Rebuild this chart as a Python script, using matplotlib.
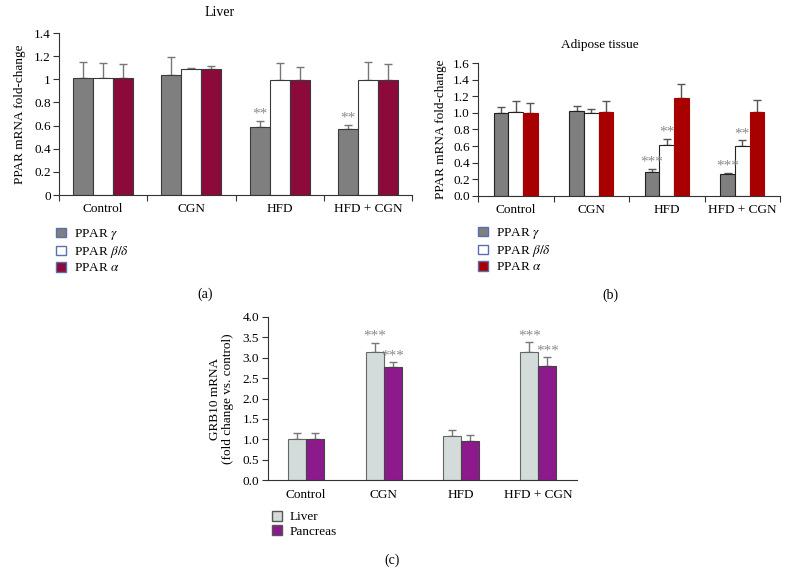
import numpy as np
import matplotlib
matplotlib.use("Agg")
import matplotlib.pyplot as plt
from matplotlib.patches import Patch

plt.rcParams.update({
    "font.family": ["Liberation Serif", "DejaVu Serif"],
    "mathtext.fontset": "stix",
    "font.size": 9.5,
    "axes.linewidth": 0.8,
    "axes.edgecolor": "#333333",
    "xtick.color": "#333333",
    "ytick.color": "#333333",
    "xtick.labelcolor": "black",
    "ytick.labelcolor": "black",
})

GROUPS = ["Control", "CGN", "HFD", "HFD + CGN"]

# panel (a) liver: bar value and top of error bar
liver_gamma = [1.01, 1.04, 0.59, 0.57]
liver_gamma_err = [1.15, 1.19, 0.64, 0.605]
liver_bd = [1.01, 1.09, 0.99, 0.99]
liver_bd_err = [1.14, 1.10, 1.14, 1.15]
liver_alpha = [1.01, 1.09, 0.99, 0.99]
liver_alpha_err = [1.13, 1.115, 1.11, 1.13]
liver_stars = ["", "", "**", "**"]

# panel (b) adipose tissue
adip_gamma = [1.00, 1.02, 0.29, 0.26]
adip_gamma_err = [1.075, 1.085, 0.325, 0.28]
adip_bd = [1.01, 0.995, 0.61, 0.60]
adip_bd_err = [1.15, 1.05, 0.69, 0.67]
adip_alpha = [1.00, 1.015, 1.185, 1.015]
adip_alpha_err = [1.12, 1.15, 1.355, 1.16]
adip_gamma_stars = ["", "", "***", "***"]
adip_bd_stars = ["", "", "**", "**"]

# panel (c) GRB10
grb_liver = [1.02, 3.13, 1.09, 3.14]
grb_liver_err = [1.165, 3.36, 1.23, 3.37]
grb_panc = [1.02, 2.76, 0.97, 2.79]
grb_panc_err = [1.165, 2.89, 1.11, 3.01]
grb_liver_stars = ["", "***", "", "***"]
grb_panc_stars = ["", "***", "", "***"]

fig = plt.figure(figsize=(7.88, 5.86), dpi=100)


def bars(ax, x, vals, tops, color, edge, width, ecolor="#777777"):
    vals = np.array(vals)
    tops = np.array(tops)
    ax.bar(x, vals, width, color=color, edgecolor=edge, linewidth=0.8, zorder=2)
    ax.errorbar(x, vals, yerr=[np.zeros_like(vals), tops - vals], fmt="none",
                ecolor=ecolor, elinewidth=1.0, capsize=3, capthick=1.0, zorder=1)


def stars(ax, x, tops, labels):
    for xi, t, s in zip(x, tops, labels):
        if s:
            ax.annotate(s, (xi, t), xytext=(0, 0), textcoords="offset points",
                        ha="center", va="bottom", color="#8a8a8a", fontsize=11)


def style(ax, ylim, yticks, ylabels, boundary_ticks=True):
    ax.set_xlim(0, 4)
    ax.set_ylim(*ylim)
    ax.spines[["top", "right"]].set_visible(False)
    ax.set_yticks(yticks)
    ax.set_yticklabels(ylabels)
    ax.set_xticks(np.arange(4) + 0.5)
    ax.set_xticklabels(GROUPS)
    ax.tick_params(axis="x", length=0, pad=6)
    ax.tick_params(axis="y", length=4, width=0.8, pad=2)
    if boundary_ticks:
        ax.set_xticks(np.arange(5), minor=True)
        ax.tick_params(axis="x", which="minor", length=4, width=0.8)


def legend(handles, labels, x, y):
    fig.legend(handles, labels, loc="upper left", bbox_to_anchor=(x / 788, 1 - y / 586),
               frameon=False, handlelength=0.75, handleheight=0.75, handletextpad=0.6,
               labelspacing=0.15, borderpad=0, borderaxespad=0, fontsize=9.5)


legend_edge = "#5b6fae"
pos = np.arange(4) + 0.5

# ---- (a) Liver
ax = fig.add_axes([59 / 788, 1 - 195 / 586, 353 / 788, 162 / 586])
w = 0.227
red_a = "#8c0a3a"
bars(ax, pos - w, liver_gamma, liver_gamma_err, "#7f7f7f", "#3a3a3a", w)
bars(ax, pos, liver_bd, liver_bd_err, "white", "#3a3a3a", w)
bars(ax, pos + w, liver_alpha, liver_alpha_err, red_a, "#3a3a3a", w)
stars(ax, pos - w, liver_gamma_err, liver_stars)
style(ax, (0, 1.4), np.arange(0, 1.41, 0.2), ["0", "0.2", "0.4", "0.6", "0.8", "1", "1.2", "1.4"])
ax.set_ylabel("PPAR mRNA fold-change", labelpad=6)
fig.text(220 / 788, 1 - 13 / 586, "Liver", ha="center", va="center", fontsize=10)
fig.text(205 / 788, 1 - 294 / 586, "(a)", ha="center", va="center", fontsize=10)
legend([Patch(fc="#7f7f7f", ec=legend_edge), Patch(fc="white", ec=legend_edge),
        Patch(fc=red_a, ec=legend_edge)],
       ["PPAR $\\gamma$", "PPAR $\\beta/\\delta$", "PPAR $\\alpha$"], 56, 227)

# ---- (b) Adipose tissue
ax = fig.add_axes([478 / 788, 1 - 195.7 / 586, 302 / 788, 132.4 / 586])
w = 0.195
red_b = "#a80000"
bars(ax, pos - w, adip_gamma, adip_gamma_err, "#7f7f7f", "#222222", w, "#555555")
bars(ax, pos, adip_bd, adip_bd_err, "white", "#222222", w, "#555555")
bars(ax, pos + w, adip_alpha, adip_alpha_err, red_b, red_b, w, "#555555")
stars(ax, pos - w, adip_gamma_err, adip_gamma_stars)
stars(ax, pos, adip_bd_err, adip_bd_stars)
style(ax, (0, 1.6), np.arange(0, 1.61, 0.2), [f"{v:.1f}" for v in np.arange(0, 1.61, 0.2)])
ax.set_ylabel("PPAR mRNA fold-change", labelpad=4)
fig.text(600 / 788, 1 - 45 / 586, "Adipose tissue", ha="center", va="center", fontsize=9.5)
fig.text(610 / 788, 1 - 295 / 586, "(b)", ha="center", va="center", fontsize=10)
legend([Patch(fc="#7f7f7f", ec=legend_edge), Patch(fc="white", ec=legend_edge),
        Patch(fc=red_b, ec=legend_edge)],
       ["PPAR $\\gamma$", "PPAR $\\beta/\\delta$", "PPAR $\\alpha$"], 478, 226)

# ---- (c) GRB10
ax = fig.add_axes([267.5 / 788, 1 - 480.3 / 586, 309.5 / 788, 163.6 / 586])
w = 0.232
liver_c = "#d3dcda"
panc_c = "#8c1a8c"
bars(ax, pos - w / 2, grb_liver, grb_liver_err, liver_c, "#666666", w)
bars(ax, pos + w / 2, grb_panc, grb_panc_err, panc_c, "#444444", w)
stars(ax, pos - w / 2, grb_liver_err, grb_liver_stars)
stars(ax, pos + w / 2, grb_panc_err, grb_panc_stars)
style(ax, (0, 4.0), np.arange(0, 4.01, 0.5), [f"{v:.1f}" for v in np.arange(0, 4.01, 0.5)],
      boundary_ticks=False)
ax.set_ylabel("GRB10 mRNA\n(fold change vs. control)", labelpad=6, linespacing=1.1)
fig.text(392 / 788, 1 - 560 / 586, "(c)", ha="center", va="center", fontsize=10)
legend([Patch(fc=liver_c, ec="#555555"), Patch(fc=panc_c, ec="#555555")],
       ["Liver", "Pancreas"], 272, 511)

fig.savefig("out.png", dpi=100)
